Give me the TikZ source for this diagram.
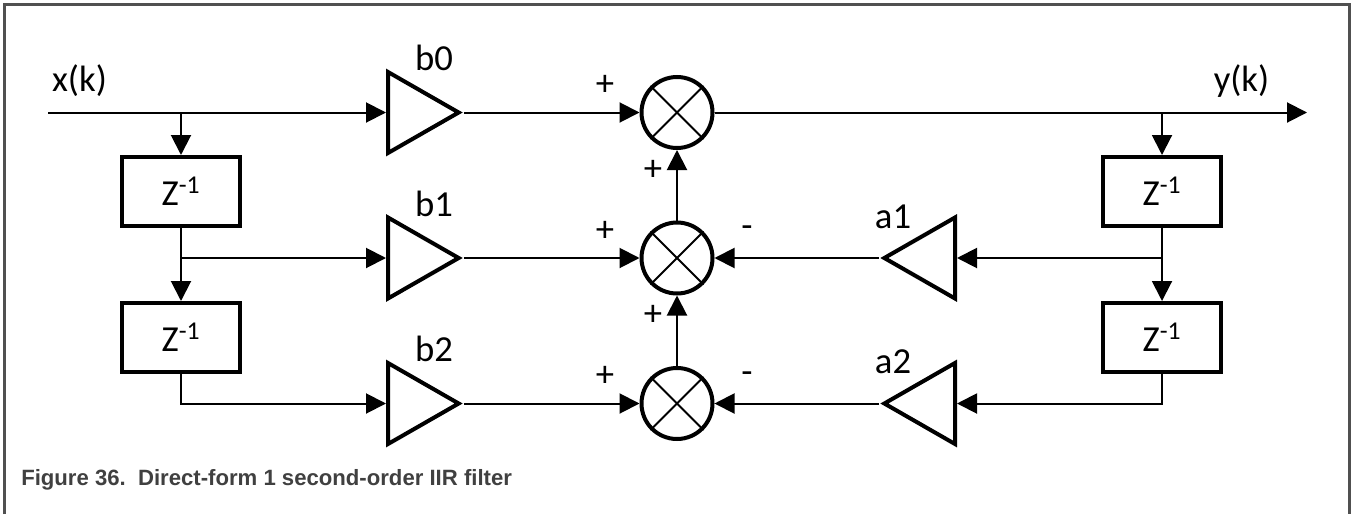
\documentclass[tikz,border=0pt]{standalone}
\usepackage{fontspec}
\setmainfont{Carlito}
\newfontfamily\captionfont{Liberation Sans}
\usetikzlibrary{shapes.geometric,arrows.meta}

\definecolor{framegray}{RGB}{80,80,80}
\definecolor{captiongray}{RGB}{64,64,64}

\begin{document}
\begin{tikzpicture}[
    x=0.75pt, y=-0.75pt,
    font=\fontsize{27.5}{32}\selectfont,
    delay/.style={rectangle,draw,line width=3pt,minimum width=88.5pt,minimum height=51.75pt,inner sep=0pt},
    gain/.style={isosceles triangle,isosceles triangle stretches,draw,line width=3pt,minimum width=60.75pt,minimum height=53pt,inner sep=0pt},
    adder/.style={circle,draw,line width=3pt,minimum size=53.25pt,inner sep=0pt},
    wire/.style={line width=1.5pt},
    arrow/.style={wire,-{Triangle[length=15pt,width=15pt]}},
    sign/.style={inner sep=0pt},
    frame/.style={line width=2.25pt,color=framegray}
]
    \useasboundingbox (0,0) rectangle (1352,514);

    % Frame, open at the bottom
    \draw[frame] (4.5,514) -- (4.5,4) -- (1349,4) -- (1349,514);

    % Feed-forward side
    \foreach \i/\r in {0/112.5,1/258,2/403.5} {
        \node[gain,anchor=lower side] (b\i) at (386,\r) {};
        \node[anchor=base] (lb\i) at (434,\r-42) {b\i};
        \node[adder] (s\i) at (677,\r) {};
        \draw[wire] (s\i.45) -- (s\i.225);
        \draw[wire] (s\i.135) -- (s\i.-45);
        \node[sign] (pb\i) at (605,\r-27) {+};
    }
    \node[delay] (zl1) at (181,191.5) {Z\textsuperscript{-1}};
    \node[delay] (zl2) at (181,337.5) {Z\textsuperscript{-1}};

    % Feedback side
    \foreach \i/\r in {1/258,2/403.5} {
        \node[gain,shape border rotate=180,anchor=lower side] (a\i) at (957,\r) {};
        \node[anchor=base] (la\i) at (893,\r-30) {a\i};
        \node[sign] (ma\i) at (747,\r-26) {-};
    }
    \node[delay] (zr1) at (1162,191.5) {Z\textsuperscript{-1}};
    \node[delay] (zr2) at (1162,337.5) {Z\textsuperscript{-1}};

    \node[sign] (pv1) at (653,170) {+};
    \node[sign] (pv2) at (653,315) {+};

    % Input and output
    \coordinate (xin) at (48,112.5);
    \coordinate (yout) at (1307,112.5);
    \node[anchor=base] (lx) at (79.5,91) {x(k)};
    \node[anchor=base] (ly) at (1241.5,91) {y(k)};

    %%%%%%%%%%%%%%%%%%%%%%%%%%%%%%%%%%%%%%%%%%%%%%%%%%%%%%%%%%%%%%%%%%%%%%%%%%%%%%%%%%%%

    % Connections
    \draw[arrow] (xin) -- (b0.lower side);
    \draw[arrow] (zl1.north |- xin) -- (zl1.north);
    \draw[arrow] (zl1.south) -- (zl2.north);
    \draw[arrow] (zl1.south |- b1.lower side) -- (b1.lower side);
    \draw[arrow] (zl2.south) |- (b2.lower side);

    \foreach \i in {0,1,2} {
        \draw[arrow] (b\i.apex) -- (s\i.west);
    }
    \draw[arrow] (s2.north) -- (s1.south);
    \draw[arrow] (s1.north) -- (s0.south);
    \draw[arrow] (s0.east) -- (yout);

    \draw[arrow] (zr1.north |- yout) -- (zr1.north);
    \draw[arrow] (zr1.south) -- (zr2.north);
    \draw[arrow] (zr1.south |- a1.lower side) -- (a1.lower side);
    \draw[arrow] (zr2.south) |- (a2.lower side);
    \draw[arrow] (a1.apex) -- (s1.east);
    \draw[arrow] (a2.apex) -- (s2.east);

    % Caption
    \node[anchor=base west,inner sep=0pt,text=captiongray,font=\captionfont\bfseries\fontsize{16.6}{20}\selectfont] (caption) at (21,485) {Figure 36.~~Direct-form 1 second-order IIR filter};
\end{tikzpicture}
\end{document}
